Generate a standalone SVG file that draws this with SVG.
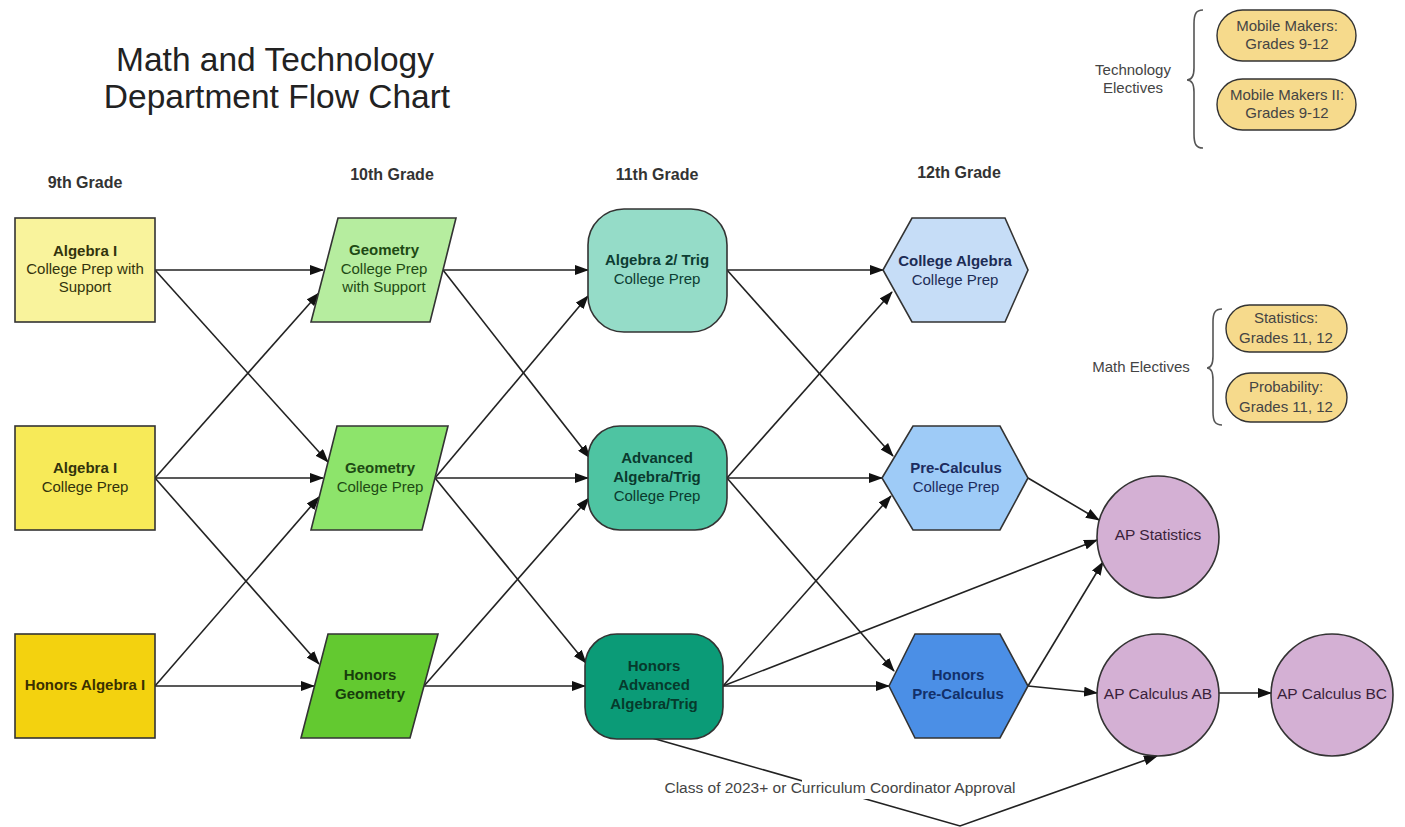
<svg xmlns="http://www.w3.org/2000/svg" width="1405" height="827" viewBox="0 0 1405 827">
<style>
text{font-family:"Liberation Sans",Arial,sans-serif;text-anchor:middle}
.title{font-size:33.5px;fill:#222}
.hdr{font-size:16px;font-weight:bold;fill:#333}
.nt{font-size:15px}
.b{font-weight:bold}
.shape{stroke:#333;stroke-width:1.6}
.edge{stroke:#222;stroke-width:1.6;fill:none;marker-end:url(#arr)}
.lbl{font-size:15.5px;fill:#444}
.pill{fill:#f6da8c;stroke:#333;stroke-width:1.4}
.pt{font-size:15px;fill:#444}
.brace{fill:none;stroke:#555;stroke-width:1.6}
.ap{fill:#d4b0d4;stroke:#333;stroke-width:1.6}
.apt{font-size:15.5px;fill:#3a1f3a}
</style>
<defs>
<marker id="arr" markerWidth="14" markerHeight="10" refX="13" refY="5" orient="auto" markerUnits="userSpaceOnUse">
<path d="M0,0 L14,5 L0,10 z" fill="#111"/>
</marker>
</defs>
<rect width="1405" height="827" fill="#fff"/>

<g id="title">
<text class="title" x="275" y="71">Math and Technology</text>
<text class="title" x="277" y="108">Department Flow Chart</text>
</g>

<g id="headers">
<text class="hdr" x="85" y="188">9th Grade</text>
<text class="hdr" x="392" y="180">10th Grade</text>
<text class="hdr" x="657" y="180">11th Grade</text>
<text class="hdr" x="959" y="178">12th Grade</text>
</g>

<g id="connectors">
<line class="edge" x1="155" y1="270" x2="323" y2="270"/>
<line class="edge" x1="155" y1="270" x2="328" y2="462"/>
<line class="edge" x1="155" y1="478" x2="319" y2="293"/>
<line class="edge" x1="155" y1="478" x2="323" y2="478"/>
<line class="edge" x1="155" y1="478" x2="319" y2="664"/>
<line class="edge" x1="155" y1="686" x2="319" y2="497"/>
<line class="edge" x1="155" y1="686" x2="314" y2="686"/>

<line class="edge" x1="443" y1="270" x2="588" y2="270"/>
<line class="edge" x1="443" y1="270" x2="590" y2="458"/>
<line class="edge" x1="435" y1="478" x2="588" y2="296"/>
<line class="edge" x1="435" y1="478" x2="588" y2="478"/>
<line class="edge" x1="435" y1="478" x2="586" y2="663"/>
<line class="edge" x1="424" y1="686" x2="589" y2="498"/>
<line class="edge" x1="424" y1="686" x2="585" y2="686"/>

<line class="edge" x1="727" y1="270" x2="883" y2="270"/>
<line class="edge" x1="727" y1="270" x2="893" y2="456"/>
<line class="edge" x1="727" y1="478" x2="892" y2="292"/>
<line class="edge" x1="727" y1="478" x2="882" y2="478"/>
<line class="edge" x1="727" y1="478" x2="894" y2="671"/>
<line class="edge" x1="723" y1="686" x2="891" y2="496"/>
<line class="edge" x1="723" y1="686" x2="889" y2="686"/>
<line class="edge" x1="723" y1="686" x2="1097" y2="540"/>

<line class="edge" x1="1028" y1="478" x2="1099" y2="520"/>
<line class="edge" x1="1028" y1="686" x2="1103" y2="562"/>
<line class="edge" x1="1028" y1="686" x2="1097" y2="693"/>
<line class="edge" x1="1219" y1="693" x2="1271" y2="693"/>
<polyline class="edge" points="652,738 960,826 1157,756"/>
<rect x="802" y="778" width="68" height="21" fill="#fff"/>
<text class="lbl" x="840" y="793">Class of 2023+ or Curriculum Coordinator Approval</text>
</g>

<g id="alg1-support">
<rect class="shape" x="15" y="218" width="140" height="104" fill="#f9f39c"/>
<text class="nt b" x="85" y="256" fill="#33330c">Algebra I</text>
<text class="nt" x="85" y="274" fill="#33330c">College Prep with</text>
<text class="nt" x="85" y="292" fill="#33330c">Support</text>
</g>
<g id="alg1-cp">
<rect class="shape" x="15" y="426" width="140" height="104" fill="#f7ea58"/>
<text class="nt b" x="85" y="473" fill="#33330c">Algebra I</text>
<text class="nt" x="85" y="492" fill="#33330c">College Prep</text>
</g>
<g id="alg1-honors">
<rect class="shape" x="15" y="634" width="140" height="104" fill="#f3d20f"/>
<text class="nt b" x="85" y="690" fill="#3a3000">Honors Algebra I</text>
</g>

<g id="geo-support">
<polygon class="shape" points="338,218 456,218 430,322 311,322" fill="#b6ed9f"/>
<text class="nt b" x="384" y="255" fill="#1e4a14">Geometry</text>
<text class="nt" x="384" y="274" fill="#1e4a14">College Prep</text>
<text class="nt" x="384" y="292" fill="#1e4a14">with Support</text>
</g>
<g id="geo-cp">
<polygon class="shape" points="337,426 448,426 422,530 311,530" fill="#8de46b"/>
<text class="nt b" x="380" y="473" fill="#1e4a14">Geometry</text>
<text class="nt" x="380" y="492" fill="#1e4a14">College Prep</text>
</g>
<g id="geo-honors">
<polygon class="shape" points="328,634 438,634 410,738 301,738" fill="#63c930"/>
<text class="nt b" x="370" y="680" fill="#173d0c">Honors</text>
<text class="nt b" x="370" y="699" fill="#173d0c">Geometry</text>
</g>

<g id="alg2-cp">
<rect class="shape" x="588" y="209" width="139" height="123" rx="36" ry="36" fill="#95dcc8"/>
<text class="nt b" x="657" y="265" fill="#0d3d33">Algebra 2/ Trig</text>
<text class="nt" x="657" y="284" fill="#0d3d33">College Prep</text>
</g>
<g id="adv-alg-cp">
<rect class="shape" x="588" y="426" width="139" height="104" rx="32" ry="32" fill="#4ec4a2"/>
<text class="nt b" x="657" y="463" fill="#0a3a2e">Advanced</text>
<text class="nt b" x="657" y="482" fill="#0a3a2e">Algebra/Trig</text>
<text class="nt" x="657" y="501" fill="#0a3a2e">College Prep</text>
</g>
<g id="adv-alg-honors">
<rect class="shape" x="585" y="634" width="138" height="105" rx="32" ry="32" fill="#0b9b77"/>
<text class="nt b" x="654" y="671" fill="#063a2c">Honors</text>
<text class="nt b" x="654" y="690" fill="#063a2c">Advanced</text>
<text class="nt b" x="654" y="709" fill="#063a2c">Algebra/Trig</text>
</g>

<g id="college-alg">
<polygon class="shape" points="883,270 912,218 1005,218 1028,270 1005,322 912,322" fill="#c6ddf7"/>
<text class="nt b" x="955" y="266" fill="#1c2c55">College Algebra</text>
<text class="nt" x="955" y="285" fill="#1c2c55">College Prep</text>
</g>
<g id="precalc-cp">
<polygon class="shape" points="882,478 913,426 1000,426 1028,478 1000,530 913,530" fill="#9ecbf7"/>
<text class="nt b" x="956" y="473" fill="#1c2c60">Pre-Calculus</text>
<text class="nt" x="956" y="492" fill="#1c2c60">College Prep</text>
</g>
<g id="precalc-honors">
<polygon class="shape" points="889,686 915,634 1000,634 1028,686 1000,738 915,738" fill="#4b8fe6"/>
<text class="nt b" x="958" y="680" fill="#12306a">Honors</text>
<text class="nt b" x="958" y="699" fill="#12306a">Pre-Calculus</text>
</g>

<g id="ap-stats">
<circle class="ap" cx="1158" cy="537" r="61"/>
<text class="apt" x="1158" y="540">AP Statistics</text>
</g>
<g id="ap-calc-ab">
<circle class="ap" cx="1158" cy="695" r="61"/>
<text class="apt" x="1158" y="699">AP Calculus AB</text>
</g>
<g id="ap-calc-bc">
<circle class="ap" cx="1332" cy="695" r="61"/>
<text class="apt" x="1332" y="699">AP Calculus BC</text>
</g>

<g id="tech-electives">
<text class="pt" x="1133" y="75">Technology</text>
<text class="pt" x="1133" y="93">Electives</text>
<path class="brace" d="M1203,10 C1196,10 1194,14 1194,24 L1194,68 C1194,76 1192,80 1187,80 C1192,80 1194,84 1194,92 L1194,134 C1194,144 1196,148 1203,148"/>
</g>
<g id="mobile-makers">
<rect class="pill" x="1217" y="10" width="139" height="51" rx="25.5"/>
<text class="pt" x="1287" y="31">Mobile Makers:</text>
<text class="pt" x="1287" y="49">Grades 9-12</text>
</g>
<g id="mobile-makers-2">
<rect class="pill" x="1217" y="79" width="139" height="51" rx="25.5"/>
<text class="pt" x="1287" y="100">Mobile Makers II:</text>
<text class="pt" x="1287" y="118">Grades 9-12</text>
</g>

<g id="math-electives">
<text class="pt" x="1141" y="372">Math Electives</text>
<path class="brace" d="M1222,309 C1215,309 1213,313 1213,322 L1213,356 C1213,364 1211,368 1207,368 C1211,368 1213,372 1213,380 L1213,412 C1213,421 1215,425 1222,425"/>
</g>
<g id="statistics">
<rect class="pill" x="1226" y="305" width="121" height="47" rx="23.5"/>
<text class="pt" x="1286" y="323">Statistics:</text>
<text class="pt" x="1286" y="343">Grades 11, 12</text>
</g>
<g id="probability">
<rect class="pill" x="1226" y="373" width="121" height="49" rx="24.5"/>
<text class="pt" x="1286" y="392">Probability:</text>
<text class="pt" x="1286" y="412">Grades 11, 12</text>
</g>
</svg>
